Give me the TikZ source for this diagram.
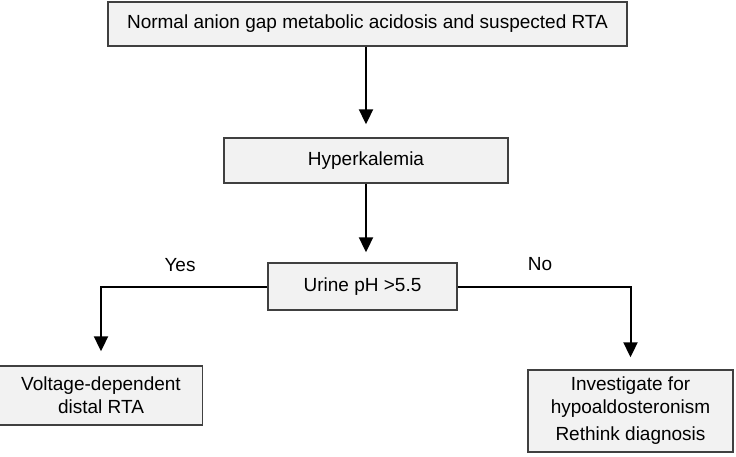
\documentclass[tikz,border=0pt]{standalone}
\usepackage{fontspec}
\setmainfont{Liberation Sans}
\usetikzlibrary{arrows.meta}
\definecolor{boxfill}{HTML}{F2F2F2}
\definecolor{boxline}{HTML}{404040}
\tikzset{
  stepbox/.style={draw=boxline, line width=1.4pt, fill=boxfill, align=center,
    inner sep=0pt, font=\fontsize{19}{23}\selectfont},
  flow/.style={line width=2pt, -{Triangle[length=15pt,width=14pt]}},
}
\begin{document}
\begin{tikzpicture}[x=1pt,y=-1pt]
\useasboundingbox (0,0) rectangle (736,456);
\node[stepbox, minimum width=519pt, minimum height=44pt] (start) at (367.5, 24) {Normal anion gap metabolic acidosis and suspected RTA};
\node[stepbox, minimum width=284pt, minimum height=45pt] (hyper) at (366, 160.5) {Hyperkalemia};
\node[stepbox, minimum width=189pt, minimum height=47pt] (urine) at (362.5, 286.5) {Urine pH >5.5};
\node[stepbox, minimum width=203pt, minimum height=59pt] (distal) at (101, 395.5) {Voltage-dependent\\distal RTA};
\node[stepbox, minimum width=205pt, minimum height=82pt] (hypo) at (630.5, 411) {Investigate for\\hypoaldosteronism\\[4pt]Rethink diagnosis};
% labels
\node[font=\fontsize{19}{23}\selectfont] (yes) at (180, 265) {Yes};
\node[font=\fontsize{19}{23}\selectfont] (no) at (540, 264) {No};
% arrows
\draw[flow, shorten >=13pt] (hyper.north |- start.south) -- (hyper.north);
\draw[flow, shorten >=10pt] (hyper.south) -- (hyper.south |- urine.north);
\draw[flow, shorten >=14pt] (urine.west) -| (distal.north);
\draw[flow, shorten >=12pt] (urine.east) -| (hypo.north);
\end{tikzpicture}
\end{document}
